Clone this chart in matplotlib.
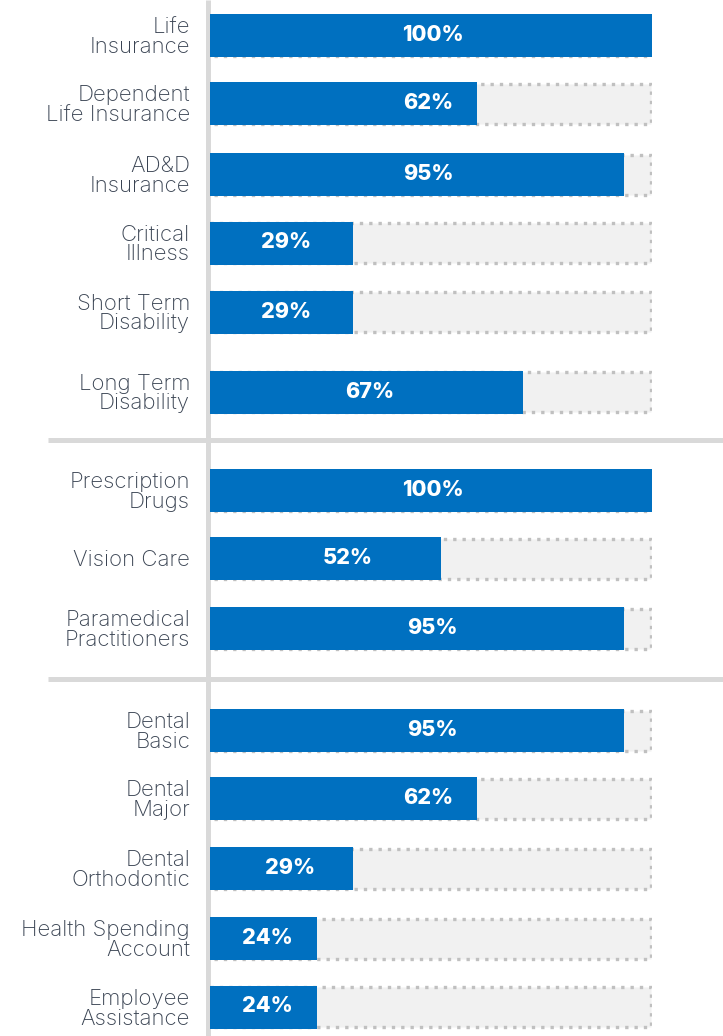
import matplotlib.pyplot as plt

# data
categories = [
    "Life\nInsurance", "Dependent\nLife Insurance", "AD&D\nInsurance",
    "Critical\nIllness", "Short Term\nDisability", "Long Term\nDisability",
    "Prescription\nDrugs", "Vision Care", "Paramedical\nPractitioners",
    "Dental\nBasic", "Dental\nMajor", "Dental\nOrthodontic",
    "Health Spending\nAccount", "Employee\nAssistance",
]
values = [100, 62, 95, 29, 29, 67, 100, 52, 95, 95, 62, 29, 24, 24]
# bar lengths as drawn in the picture (not exactly the printed values)
bar_len = [100, 60.4, 93.7, 32.4, 32.4, 70.8, 100, 52.3, 93.7,
           93.7, 60.4, 32.4, 24.2, 24.2]

# layout (pixel rows, y grows downward)
row_y = [35.5, 103.5, 174.5, 243, 312, 392, 490.5, 558.5, 628.5,
         730.5, 798.5, 868.5, 938.5, 1007]
label_x = [50.5, 49.3, 49.3, 17.2, 17.2, 36.2, 50.5, 31.2, 50.2,
           50.2, 49.3, 18.1, 12.9, 12.9]
separators = [439.5, 678.5]

W, H = 723, 1036
BLUE = "#0070c0"
GRID = "#d9d9d9"
TEXT = "#3a4453"
bar_h = 43
px = 100 / 442  # data units per pixel along x

fig = plt.figure(figsize=(W / 100, H / 100), dpi=100)
ax = fig.add_axes([210 / W, 0, 442 / W, 1])
ax.set_xlim(0, 100)
ax.set_ylim(H, 0)
ax.axis("off")

# gray track with dotted border
ax.barh(row_y, 100 - 1.5 * px, height=bar_h - 3, left=0,
        color="#f1f1f1", edgecolor="#c0c0c0", linewidth=2.4,
        linestyle=(0, (1, 1.8)), zorder=1)
ax.barh(row_y, bar_len, height=bar_h, color=BLUE, zorder=2)

for y, v, lx in zip(row_y, values, label_x):
    ax.text(lx, y - 0.5, f"{v}%", color="white", ha="center", va="center",
            fontsize=15.5, fontweight="heavy", family="Inter", zorder=3)

for y, c in zip(row_y, categories):
    ax.text(-20 * px, y + 1.5, c, color=TEXT, ha="right", va="center",
            multialignment="right", fontsize=16, fontweight="light",
            family="Inter", linespacing=0.98)

# frame lines
ax.plot([-2.5 * px] * 2, [0, H], color=GRID, lw=3.6, clip_on=False, zorder=0,
        solid_capstyle="butt")
for s in separators:
    ax.plot([-162 * px, 513 * px], [s, s], color=GRID, lw=3.6, clip_on=False,
            zorder=0, solid_capstyle="butt")

fig.savefig("out.png", dpi=100)
